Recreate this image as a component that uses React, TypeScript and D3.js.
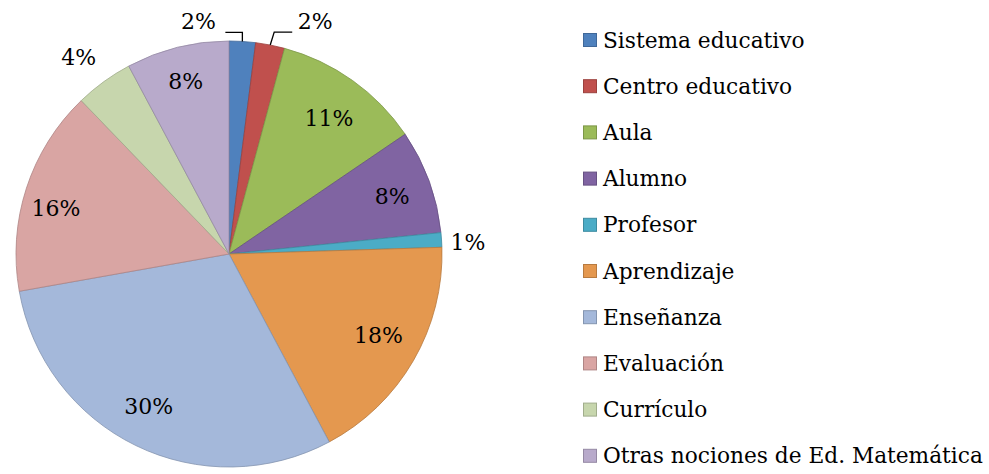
import React from "react";
import * as d3 from "d3";

const categories = [
  "Sistema educativo",
  "Centro educativo",
  "Aula",
  "Alumno",
  "Profesor",
  "Aprendizaje",
  "Enseñanza",
  "Evaluación",
  "Currículo",
  "Otras nociones de Ed. Matemática",
];
const values = [2.0, 2.2, 11.3, 7.9, 1.1, 17.7, 30.0, 15.6, 4.4, 7.8];
const colors = [
  "#4F81BD",
  "#C0504D",
  "#9BBB59",
  "#8064A2",
  "#4BACC6",
  "#E4984F",
  "#A4B8DA",
  "#D9A5A3",
  "#C7D6AD",
  "#B8AACB",
];
// label placement (layout only)
type Place = { r: number; dx: number; dy: number; leader?: { side: number; rise: number; kdx: number; len: number; gap: number } };
const labelPlacement: Place[] = [
  { r: 1, dx: 0, dy: 0, leader: { side: -1, rise: 9, kdx: 0, len: 17, gap: 27 } },
  { r: 1, dx: 0, dy: 0, leader: { side: 1, rise: 13, kdx: 4, len: 18, gap: 23 } },
  { r: 0.8, dx: 1, dy: 3 },
  { r: 0.8, dx: 3, dy: 1 },
  { r: 1.12, dx: 1, dy: 4 },
  { r: 0.8, dx: 2, dy: -4 },
  { r: 0.82, dx: -4, dy: -5 },
  { r: 0.83, dx: -5, dy: 9 },
  { r: 1.16, dx: -5, dy: 3 },
  { r: 0.82, dx: -1, dy: -3 },
];

const W = 989;
const H = 474;
const cx = 229;
const cy = 254;
const R = 213;
const font = "'DejaVu Serif', serif";

export default function App() {
  const total = d3.sum(values);
  const pie = d3
    .pie<number>()
    .sort(null)
    .value((d) => d)
    .startAngle(0)
    .endAngle(2 * Math.PI);
  const arcs = pie(values);
  const arc = d3.arc<d3.PieArcDatum<number>>().innerRadius(0).outerRadius(R);

  const pt = (angle: number, r: number): [number, number] => [
    Math.sin(angle) * r,
    -Math.cos(angle) * r,
  ];

  return (
    <svg
      width={W}
      height={H}
      style={{ position: "absolute", left: 0, top: 0, background: "#fff" }}
    >
      <g transform={`translate(${cx},${cy})`}>
        {arcs.map((a, i) => (
          <path
            key={i}
            d={arc(a) || ""}
            fill={colors[i]}
            stroke={d3.color(colors[i])!.darker(0.6).formatHex()}
            strokeWidth={1}
            strokeOpacity={0.8}
          />
        ))}
        {arcs.map((a, i) => {
          const p = labelPlacement[i];
          const mid = (a.startAngle + a.endAngle) / 2;
          const label = `${Math.round((values[i] / total) * 100)}%`;
          let x: number, y: number;
          let leader = null;
          if (p.leader) {
            const L = p.leader;
            const [ex, ey] = pt(mid, R);
            const kx = ex + L.kdx;
            const ky = ey - L.rise;
            const hx = kx + L.side * L.len;
            x = hx + L.side * L.gap;
            y = ky - 11;
            leader = (
              <polyline
                points={`${ex},${ey} ${kx},${ky} ${hx},${ky}`}
                fill="none"
                stroke="#000"
                strokeWidth={1.3}
              />
            );
          } else {
            const [bx, by] = pt(mid, R * p.r);
            x = bx + p.dx;
            y = by + p.dy;
          }
          return (
            <g key={"l" + i}>
              {leader}
              <text
                x={x}
                y={y}
                textAnchor="middle"
                dominantBaseline="central"
                fontFamily={font}
                fontSize={22}
                fill="#000"
              >
                {label}
              </text>
            </g>
          );
        })}
      </g>
      <g>
        {categories.map((c, i) => {
          const y = 40 + i * 46.2;
          return (
            <g key={c}>
              <rect
                x={583.5}
                y={y - 6.5}
                width={13}
                height={13}
                fill={colors[i]}
                stroke={d3.color(colors[i])!.darker(0.6).formatHex()}
                strokeWidth={1}
              />
              <text
                x={603}
                y={y}
                dominantBaseline="central"
                fontFamily={font}
                fontSize={21.7}
                fill="#000"
              >
                {c}
              </text>
            </g>
          );
        })}
      </g>
    </svg>
  );
}
